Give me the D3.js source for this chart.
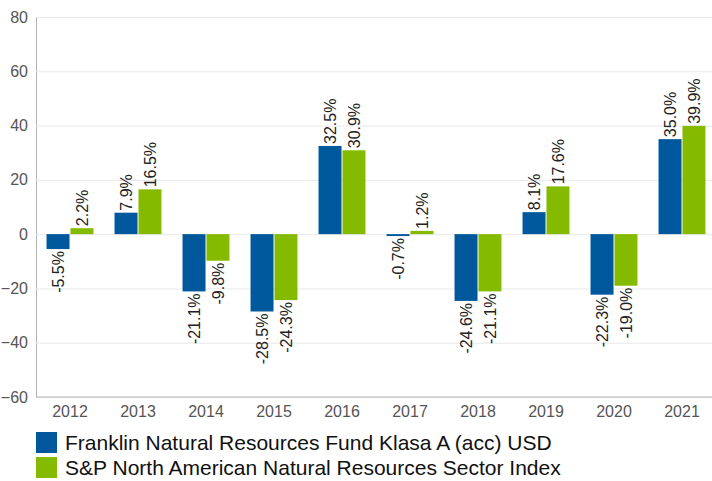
<!DOCTYPE html>
<html>
<head>
<meta charset="utf-8">
<script src="https://cdn.jsdelivr.net/npm/d3@7"></script>
<style>
  body { margin: 0; background: #fff; }
  svg { font-family: "Liberation Sans", Arial, sans-serif; }
</style>
</head>
<body>
<div id="chart"></div>
<script>
// datos
const years = ["2012", "2013", "2014", "2015", "2016", "2017", "2018", "2019", "2020", "2021"];
const seriesNames = [
  "Franklin Natural Resources Fund Klasa A (acc) USD",
  "S&P North American Natural Resources Sector Index"
];
const fundValues = [-5.5, 7.9, -21.1, -28.5, 32.5, -0.7, -24.6, 8.1, -22.3, 35.0];
const indexValues = [2.2, 16.5, -9.8, -24.3, 30.9, 1.2, -21.1, 17.6, -19.0, 39.9];
const yTicks = [-60, -40, -20, 0, 20, 40, 60, 80];
const colors = ["#00589c", "#84bb00"];

const width = 712, height = 481;
const plot = { left: 36, right: 712, top: 17, bottom: 397 };

const svg = d3.select("#chart").append("svg")
  .attr("width", width)
  .attr("height", height);

// escaladores
const x = d3.scaleBand().domain(years)
  .range([plot.left, 716])
  .paddingInner(0.31)
  .paddingOuter(0.155);
const xSub = d3.scaleBand().domain([0, 1])
  .range([0, x.bandwidth()])
  .paddingInner(0.04);
const y = d3.scaleLinear().domain([-60, 80]).range([plot.bottom, plot.top]);

// rejilla
const axisY = d3.axisLeft(y).tickValues(yTicks).tickSize(-(plot.right - plot.left)).tickSizeOuter(0).tickPadding(8);
const gy = svg.append("g")
  .attr("transform", `translate(${plot.left},0)`)
  .call(axisY);
gy.select(".domain").attr("stroke", "#b3b3b3");
gy.selectAll(".tick line").attr("stroke", "#e8e8e8");
gy.selectAll(".tick text")
  .attr("fill", "#555")
  .attr("font-size", 16)
  .attr("font-family", "Liberation Sans, Arial, sans-serif");

const gx = svg.append("g")
  .attr("transform", `translate(0,${plot.bottom})`)
  .call(d3.axisBottom(x).tickSize(0).tickPadding(9));
gx.select(".domain").attr("d", `M${plot.left},0H${plot.right}`).attr("stroke", "#b3b3b3");
gx.selectAll(".tick text")
  .attr("fill", "#555")
  .attr("font-size", 16)
  .attr("font-family", "Liberation Sans, Arial, sans-serif");

// barras
const rows = years.map((yr, i) => ({ year: yr, vals: [fundValues[i], indexValues[i]] }));
const groups = svg.append("g").selectAll("g").data(rows).join("g")
  .attr("transform", (d) => `translate(${x(d.year)},0)`);

groups.selectAll("rect")
  .data((d) => d.vals.map((v, k) => ({ v, k })))
  .join("rect")
  .attr("x", (d) => xSub(d.k))
  .attr("width", xSub.bandwidth())
  .attr("y", (d) => y(Math.max(0, d.v)))
  .attr("height", (d) => Math.abs(y(d.v) - y(0)))
  .attr("fill", (d) => colors[d.k]);

// etiquetas de valores
groups.selectAll("text.val")
  .data((d) => d.vals.map((v, k) => ({ v, k })))
  .join("text")
  .attr("class", "val")
  .attr("transform", (d) => {
    const cx = xSub(d.k) + xSub.bandwidth() / 2 + 6;
    const cy = d.v >= 0 ? y(d.v) - 2 : y(d.v) + 2;
    return `translate(${cx},${cy}) rotate(-90)`;
  })
  .attr("text-anchor", (d) => (d.v >= 0 ? "start" : "end"))
  .attr("font-size", 16)
  .attr("fill", "#222")
  .text((d) => d.v.toFixed(1) + "%");

// leyenda
const legend = svg.append("g").selectAll("g").data(seriesNames).join("g")
  .attr("transform", (d, i) => `translate(36,${432 + i * 25})`);
legend.append("rect")
  .attr("width", 21)
  .attr("height", 21)
  .attr("fill", (d, i) => colors[i]);
legend.append("text")
  .attr("x", 29)
  .attr("y", 18)
  .attr("font-size", 21)
  .attr("fill", "#111")
  .text((d) => d);
</script>
</body>
</html>
